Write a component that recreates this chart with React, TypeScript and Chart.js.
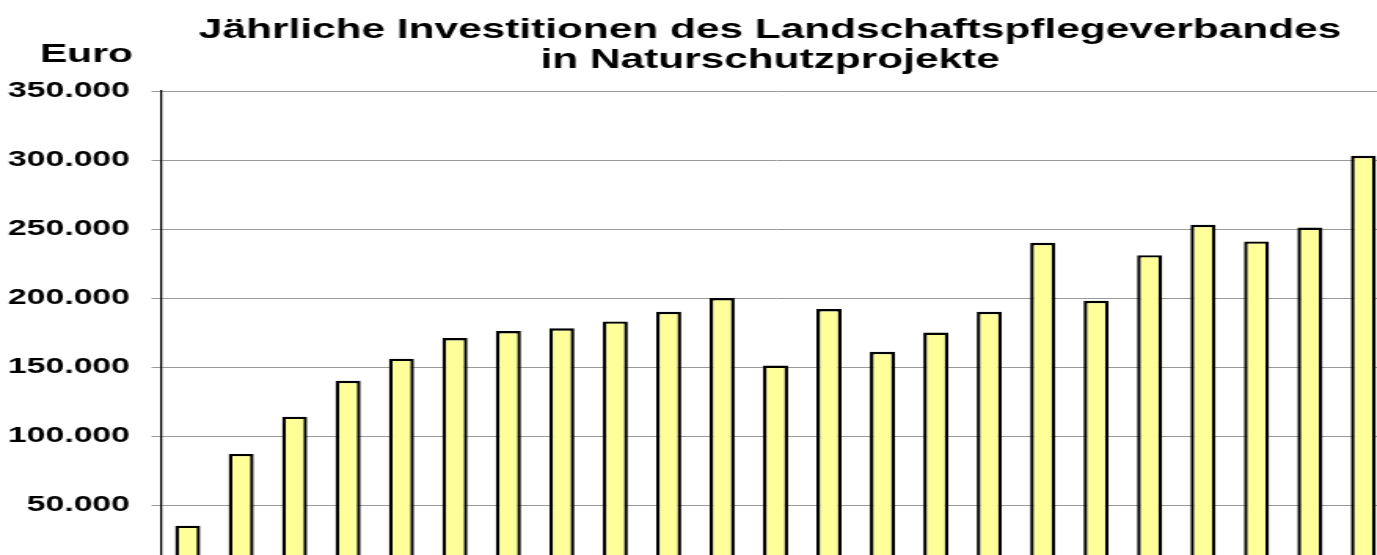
import React, { useEffect, useRef } from "react";
import { Chart, registerables } from "chart.js";

Chart.register(...registerables);

const titleLines = ["Jährliche Investitionen des Landschaftspflegeverbandes", "in Naturschutzprojekte"];
const unitLabel = "Euro";
const categories = [
  "1", "2", "3", "4", "5", "6", "7", "8", "9", "10", "11", "12",
  "13", "14", "15", "16", "17", "18", "19", "20", "21", "22", "23",
];
const investments = [
  35000, 87000, 114000, 140000, 156000, 171000, 176000, 178000, 183000, 190000, 200000, 151000,
  192000, 161000, 175000, 190000, 240000, 198000, 231000, 253000, 241000, 251000, 303000,
];
const yMin = 0;
const yMax = 350000;
const yStep = 50000;

const STRETCH = 1.57;
const FONT = '"Liberation Sans", Arial, sans-serif';

const fmt = (v: number) => String(v).replace(/\B(?=(\d{3})+(?!\d))/g, ".");

const textPlugin = {
  id: "titleText",
  afterDraw(chart: any) {
    const { ctx, chartArea } = chart;
    ctx.save();
    ctx.fillStyle = "#000";
    ctx.textBaseline = "alphabetic";
    ctx.font = `bold 27px ${FONT}`;
    ctx.textAlign = "center";
    const cx = (chartArea.left + chartArea.right) / 2 - 3.5;
    ctx.fillText(titleLines[0], cx, 38);
    ctx.fillText(titleLines[1], cx, 68);
    ctx.font = `bold 26px ${FONT}`;
    ctx.textAlign = "left";
    ctx.fillText(unitLabel, 25.5, 62);
    ctx.restore();
  },
};

export default function App() {
  const ref = useRef<HTMLCanvasElement | null>(null);
  useEffect(() => {
    if (!ref.current) return;
    const chart = new Chart(ref.current, {
      type: "bar",
      data: {
        labels: categories,
        datasets: [
          {
            data: investments,
            backgroundColor: "#FFFF99",
            borderColor: "#000000",
            borderWidth: 2.4,
            categoryPercentage: 1,
            barPercentage: 0.47,
          },
        ],
      },
      options: {
        animation: false,
        responsive: true,
        maintainAspectRatio: false,
        layout: { padding: { top: 91, bottom: 46, left: 0, right: 14.6 } },
        plugins: {
          legend: { display: false },
          title: { display: false },
          tooltip: { enabled: false },
        },
        scales: {
          x: { display: false },
          y: {
            min: yMin,
            max: yMax,
            afterFit(scale: any) {
              scale.width = 102.55;
            },
            ticks: {
              stepSize: yStep,
              padding: 13.8,
              color: "#000",
              font: { family: FONT, size: 21.5, weight: "bold" },
              callback: (v: any) => fmt(Number(v)),
            },
            grid: { color: "#9a9a9a", lineWidth: 1, tickLength: 6, drawTicks: true },
            border: { display: true, color: "#000", width: 1.3 },
          },
        },
      },
      plugins: [textPlugin],
    });
    return () => chart.destroy();
  }, []);

  return (
    <div
      style={{
        position: "fixed",
        left: 0,
        top: 0,
        width: 1377,
        height: 555,
        overflow: "hidden",
        background: "#fff",
      }}
    >
      <div
        style={{
          position: "absolute",
          left: 0,
          top: 0,
          width: 900,
          height: 620,
          transform: `scaleX(${STRETCH})`,
          transformOrigin: "0 0",
        }}
      >
        <canvas ref={ref} />
      </div>
    </div>
  );
}
